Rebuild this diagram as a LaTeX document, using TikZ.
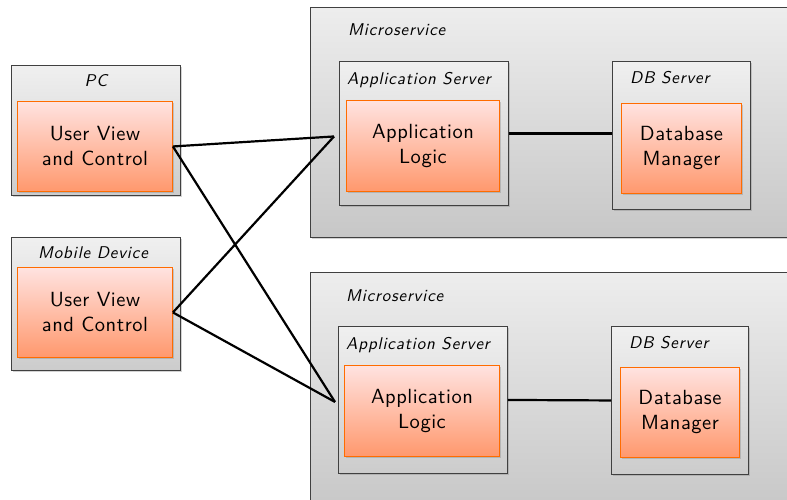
\documentclass[tikz,border=0pt]{standalone}
\usepackage{fontspec}
\newfontfamily\lmsx{lmsans10-regular.otf}[ItalicFont=lmsans10-oblique.otf]
\newfontfamily\lmsxl{lmsans10-oblique.otf}[LetterSpace=5]
\newfontfamily\lmsxb{lmsans10-regular.otf}[LetterSpace=2.5]
\usetikzlibrary{shadows}
\begin{document}
\begin{tikzpicture}[x=1pt,y=-1pt,
  font=\lmsx,
  outerbox/.style={draw=black!75, line width=0.9pt, top color=black!7, bottom color=black!22, anchor=north west, inner sep=0pt, drop shadow={shadow xshift=1.5pt, shadow yshift=-1.5pt, opacity=0.35}},
  hostbox/.style={draw=black!75, line width=0.9pt, top color=black!6, bottom color=black!20, anchor=north west, inner sep=0pt, drop shadow={shadow xshift=1.5pt, shadow yshift=-1.5pt, opacity=0.35}},
  compbox/.style={draw=orange!85!red, line width=0.9pt, top color=orange!15!red!12!white, bottom color=orange!55!red!55!white!95!orange, anchor=north west, inner sep=0pt, align=center, font=\lmsxb\fontsize{20.5}{25}\selectfont, drop shadow={shadow xshift=1.5pt, shadow yshift=-1.5pt, opacity=0.35}},
  lbl/.style={font=\lmsxl\fontsize{17}{20}\selectfont, inner sep=0pt},
  conn/.style={line width=2.2pt, black}]
\useasboundingbox (0,0) rectangle (787,499);
% Microservices
\node[outerbox, minimum width=490, minimum height=230] (ms1) at (310,7) {};
\node[lbl, anchor=west] (ms1l) at (348,30) {Microservice};
\node[outerbox, minimum width=490, minimum height=240] (ms2) at (310,272) {};
\node[lbl, anchor=west] (ms2l) at (346,296) {Microservice};
% Clients
\node[hostbox, minimum width=169, minimum height=130] (pc) at (11,65) {};
\node[lbl] (pcl) at (96,81) {PC};
\node[compbox, minimum width=155, minimum height=90] (uv1) at (17,101) {User View\\and Control};
\node[hostbox, minimum width=169, minimum height=133] (mob) at (11,237) {};
\node[lbl] (mobl) at (93,253) {Mobile Device};
\node[compbox, minimum width=155, minimum height=90] (uv2) at (17,267) {User View\\and Control};
% Microservice 1
\node[hostbox, minimum width=169, minimum height=144] (as1) at (339,61) {};
\node[lbl, anchor=west] (as1l) at (347,80) {Application Server};
\node[compbox, minimum width=153, minimum height=91] (al1) at (346,100) {Application\\Logic};
\node[hostbox, minimum width=138, minimum height=148] (db1) at (612,61) {};
\node[lbl, anchor=west] (db1l) at (630,78) {DB Server};
\node[compbox, minimum width=120, minimum height=90] (dm1) at (621,103) {Database\\Manager};
% Microservice 2
\node[hostbox, minimum width=169, minimum height=147] (as2) at (338,326) {};
\node[lbl, anchor=west] (as2l) at (346,345) {Application Server};
\node[compbox, minimum width=155, minimum height=91] (al2) at (344,365) {Application\\Logic};
\node[hostbox, minimum width=137, minimum height=148] (db2) at (611,326) {};
\node[lbl, anchor=west] (db2l) at (629,343) {DB Server};
\node[compbox, minimum width=119, minimum height=90] (dm2) at (620,367) {Database\\Manager};
% Connectors
\coordinate (a1) at ([xshift=-5pt,yshift=-3pt]as1.west);
\coordinate (a2) at ([xshift=-3pt,yshift=-2pt]as2.west);
\draw[conn] (uv1.east) -- (a1);
\draw[conn] (uv1.east) -- (a2);
\draw[conn] (uv2.east) -- (a1);
\draw[conn] (uv2.east) -- (a2);
\draw[conn] (as1.east) -- ([yshift=2pt]db1.west);
\draw[conn] (as2.east) -- (db2.west);
\end{tikzpicture}
\end{document}
